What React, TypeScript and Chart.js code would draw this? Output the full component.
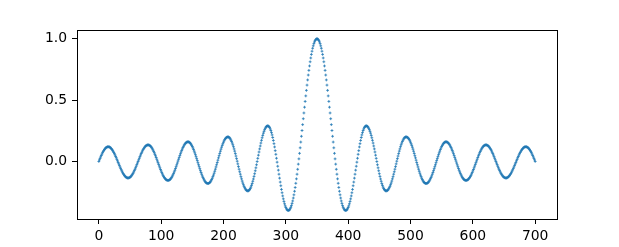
import React, { useEffect, useRef } from "react";
import { Chart, registerables } from "chart.js";

Chart.register(...registerables);

// Sample positions: x = xStart + index * xStep
const xStart = 0;
const xStep = 1;

// Values, x = 0 .. 700
const yValues: number[] = [
  0.000, 0.013, 0.025, 0.037, 0.049, 0.060, 0.071, 0.080, 0.089, 0.097,
  0.104, 0.110, 0.114, 0.117, 0.119, 0.120, 0.119, 0.118, 0.115, 0.110,
  0.105, 0.098, 0.091, 0.083, 0.073, 0.063, 0.053, 0.041, 0.030, 0.017,
  0.005, -0.008, -0.020, -0.032, -0.045, -0.056, -0.068, -0.078, -0.088, -0.098,
  -0.106, -0.114, -0.120, -0.125, -0.130, -0.133, -0.134, -0.135, -0.134, -0.132,
  -0.129, -0.125, -0.119, -0.112, -0.104, -0.096, -0.086, -0.075, -0.064, -0.052,
  -0.039, -0.026, -0.013, 0.000, 0.013, 0.026, 0.039, 0.052, 0.064, 0.075,
  0.086, 0.096, 0.104, 0.112, 0.119, 0.125, 0.129, 0.132, 0.134, 0.135,
  0.134, 0.132, 0.129, 0.124, 0.118, 0.111, 0.102, 0.093, 0.082, 0.071,
  0.058, 0.046, 0.032, 0.018, 0.004, -0.010, -0.024, -0.038, -0.052, -0.066,
  -0.078, -0.091, -0.102, -0.113, -0.122, -0.131, -0.138, -0.144, -0.149, -0.152,
  -0.154, -0.155, -0.154, -0.152, -0.148, -0.143, -0.136, -0.129, -0.119, -0.109,
  -0.097, -0.085, -0.072, -0.058, -0.043, -0.028, -0.013, 0.003, 0.018, 0.033,
  0.048, 0.063, 0.077, 0.090, 0.102, 0.114, 0.124, 0.134, 0.141, 0.148,
  0.153, 0.157, 0.159, 0.160, 0.159, 0.157, 0.153, 0.147, 0.140, 0.131,
  0.121, 0.110, 0.098, 0.084, 0.070, 0.055, 0.039, 0.023, 0.007, -0.010,
  -0.027, -0.043, -0.059, -0.075, -0.090, -0.104, -0.118, -0.130, -0.141, -0.151,
  -0.160, -0.167, -0.173, -0.177, -0.179, -0.180, -0.179, -0.176, -0.172, -0.166,
  -0.158, -0.148, -0.137, -0.124, -0.111, -0.096, -0.080, -0.063, -0.045, -0.027,
  -0.009, 0.010, 0.029, 0.047, 0.065, 0.083, 0.100, 0.116, 0.131, 0.144,
  0.157, 0.168, 0.178, 0.186, 0.192, 0.196, 0.199, 0.200, 0.199, 0.196,
  0.191, 0.183, 0.174, 0.163, 0.150, 0.136, 0.120, 0.102, 0.084, 0.064,
  0.044, 0.023, 0.002, -0.020, -0.042, -0.063, -0.084, -0.104, -0.124, -0.142,
  -0.160, -0.176, -0.190, -0.203, -0.214, -0.223, -0.231, -0.236, -0.239, -0.240,
  -0.239, -0.235, -0.229, -0.220, -0.209, -0.195, -0.180, -0.162, -0.143, -0.122,
  -0.100, -0.076, -0.052, -0.027, -0.001, 0.025, 0.051, 0.077, 0.102, 0.126,
  0.150, 0.172, 0.193, 0.212, 0.230, 0.245, 0.259, 0.270, 0.279, 0.285,
  0.289, 0.290, 0.288, 0.284, 0.276, 0.265, 0.252, 0.235, 0.216, 0.195,
  0.171, 0.145, 0.118, 0.088, 0.058, 0.026, -0.006, -0.039, -0.071, -0.104,
  -0.136, -0.168, -0.198, -0.228, -0.255, -0.281, -0.305, -0.326, -0.345, -0.362,
  -0.375, -0.386, -0.394, -0.398, -0.400, -0.398, -0.394, -0.385, -0.374, -0.360,
  -0.342, -0.322, -0.298, -0.272, -0.243, -0.212, -0.178, -0.142, -0.104, -0.064,
  -0.022, 0.021, 0.066, 0.111, 0.158, 0.205, 0.252, 0.300, 0.348, 0.395,
  0.442, 0.489, 0.534, 0.579, 0.622, 0.664, 0.704, 0.742, 0.778, 0.812,
  0.843, 0.872, 0.898, 0.922, 0.942, 0.960, 0.974, 0.985, 0.993, 0.998,
  1.000,
  0.998, 0.993, 0.985, 0.974, 0.960, 0.942, 0.922, 0.898, 0.872, 0.843,
  0.812, 0.778, 0.742, 0.704, 0.664, 0.622, 0.579, 0.534, 0.489, 0.442,
  0.395, 0.348, 0.300, 0.252, 0.205, 0.158, 0.111, 0.066, 0.021, -0.022,
  -0.064, -0.104, -0.142, -0.178, -0.212, -0.243, -0.272, -0.298, -0.322, -0.342,
  -0.360, -0.374, -0.385, -0.394, -0.398, -0.400, -0.398, -0.394, -0.386, -0.375,
  -0.362, -0.345, -0.326, -0.305, -0.281, -0.255, -0.228, -0.198, -0.168, -0.136,
  -0.104, -0.071, -0.039, -0.006, 0.026, 0.058, 0.088, 0.118, 0.145, 0.171,
  0.195, 0.216, 0.235, 0.252, 0.265, 0.276, 0.284, 0.288, 0.290, 0.289,
  0.285, 0.279, 0.270, 0.259, 0.245, 0.230, 0.212, 0.193, 0.172, 0.150,
  0.126, 0.102, 0.077, 0.051, 0.025, -0.001, -0.027, -0.052, -0.076, -0.100,
  -0.122, -0.143, -0.162, -0.180, -0.195, -0.209, -0.220, -0.229, -0.235, -0.239,
  -0.240, -0.239, -0.236, -0.231, -0.223, -0.214, -0.203, -0.190, -0.176, -0.160,
  -0.142, -0.124, -0.104, -0.084, -0.063, -0.042, -0.020, 0.002, 0.023, 0.044,
  0.064, 0.084, 0.102, 0.120, 0.136, 0.150, 0.163, 0.174, 0.183, 0.191,
  0.196, 0.199, 0.200, 0.199, 0.196, 0.192, 0.186, 0.178, 0.168, 0.157,
  0.144, 0.131, 0.116, 0.100, 0.083, 0.065, 0.047, 0.029, 0.010, -0.009,
  -0.027, -0.045, -0.063, -0.080, -0.096, -0.111, -0.124, -0.137, -0.148, -0.158,
  -0.166, -0.172, -0.176, -0.179, -0.180, -0.179, -0.177, -0.173, -0.167, -0.160,
  -0.151, -0.141, -0.130, -0.118, -0.104, -0.090, -0.075, -0.059, -0.043, -0.027,
  -0.010, 0.007, 0.023, 0.039, 0.055, 0.070, 0.084, 0.098, 0.110, 0.121,
  0.131, 0.140, 0.147, 0.153, 0.157, 0.159, 0.160, 0.159, 0.157, 0.153,
  0.148, 0.141, 0.134, 0.124, 0.114, 0.102, 0.090, 0.077, 0.063, 0.048,
  0.033, 0.018, 0.003, -0.013, -0.028, -0.043, -0.058, -0.072, -0.085, -0.097,
  -0.109, -0.119, -0.129, -0.136, -0.143, -0.148, -0.152, -0.154, -0.155, -0.154,
  -0.152, -0.149, -0.144, -0.138, -0.131, -0.122, -0.113, -0.102, -0.091, -0.078,
  -0.066, -0.052, -0.038, -0.024, -0.010, 0.004, 0.018, 0.032, 0.046, 0.058,
  0.071, 0.082, 0.093, 0.102, 0.111, 0.118, 0.124, 0.129, 0.132, 0.134,
  0.135, 0.134, 0.132, 0.129, 0.125, 0.119, 0.112, 0.104, 0.096, 0.086,
  0.075, 0.064, 0.052, 0.039, 0.026, 0.013, 0.000, -0.013, -0.026, -0.039,
  -0.052, -0.064, -0.075, -0.086, -0.096, -0.104, -0.112, -0.119, -0.125, -0.129,
  -0.132, -0.134, -0.135, -0.134, -0.133, -0.130, -0.125, -0.120, -0.114, -0.106,
  -0.098, -0.088, -0.078, -0.068, -0.056, -0.045, -0.032, -0.020, -0.008, 0.005,
  0.017, 0.030, 0.041, 0.053, 0.063, 0.073, 0.083, 0.091, 0.098, 0.105,
  0.110, 0.115, 0.118, 0.119, 0.120, 0.119, 0.117, 0.114, 0.110, 0.104,
  0.097, 0.089, 0.080, 0.071, 0.060, 0.049, 0.037, 0.025, 0.013, 0.000,
];

const xTicks = [0, 100, 200, 300, 400, 500, 600, 700];
const yTicks = [0.0, 0.5, 1.0];
const xLimits = [-35, 735];
const yLimits = [-0.469, 1.071];

const FONT = { family: "'DejaVu Sans', sans-serif", size: 13.9 };

export default function App() {
  const canvasRef = useRef<HTMLCanvasElement | null>(null);

  useEffect(() => {
    document.body.style.margin = "0";
    const canvas = canvasRef.current;
    if (!canvas) return;

    const points = yValues.map((y, i) => ({ x: xStart + i * xStep, y }));

    const framePlugin = {
      id: "frame",
      afterDraw(chart: any) {
        const { ctx, chartArea: a } = chart;
        ctx.save();
        ctx.strokeStyle = "#000000";
        ctx.lineWidth = 1;
        ctx.strokeRect(a.left + 0.5, a.top + 0.5, a.right - a.left, a.bottom - a.top);
        ctx.restore();
      },
    };

    const chart = new Chart(canvas, {
      type: "scatter",
      data: {
        datasets: [
          {
            data: points,
            showLine: false,
            pointStyle: "cross",
            pointRadius: 1.4,
            pointBorderWidth: 0.8,
            borderColor: "#1f77b4",
            backgroundColor: "#1f77b4",
            pointHoverRadius: 1.4,
          },
        ],
      },
      options: {
        responsive: false,
        animation: false,
        devicePixelRatio: 1,
        events: [],
        layout: { autoPadding: false, padding: { top: 30, right: 62, left: 0, bottom: 0 } },
        plugins: { legend: { display: false }, tooltip: { enabled: false } },
        scales: {
          x: {
            type: "linear",
            min: xLimits[0],
            max: xLimits[1],
            afterBuildTicks: (scale: any) => {
              scale.ticks = xTicks.map((v) => ({ value: v }));
            },
            afterFit: (scale: any) => {
              scale.height = 28;
            },
            ticks: {
              color: "#000000",
              font: FONT,
              padding: 4,
              maxRotation: 0,
              autoSkip: false,
              callback: (v: any) => String(v),
            },
            grid: {
              display: true,
              drawOnChartArea: false,
              drawTicks: true,
              tickLength: 5,
              color: "#000000",
              lineWidth: 1,
            },
            border: { display: false },
          },
          y: {
            type: "linear",
            min: yLimits[0],
            max: yLimits[1],
            afterBuildTicks: (scale: any) => {
              scale.ticks = yTicks.map((v) => ({ value: v }));
            },
            afterFit: (scale: any) => {
              scale.width = 77;
            },
            ticks: {
              color: "#000000",
              font: FONT,
              padding: 5,
              autoSkip: false,
              callback: (v: any) => Number(v).toFixed(1),
            },
            grid: {
              display: true,
              drawOnChartArea: false,
              drawTicks: true,
              tickLength: 5,
              color: "#000000",
              lineWidth: 1,
            },
            border: { display: false },
          },
        },
      },
      plugins: [framePlugin],
    });

    return () => chart.destroy();
  }, []);

  return (
    <div style={{ width: 619, height: 247, background: "#ffffff" }}>
      <canvas ref={canvasRef} width={619} height={247} style={{ display: "block" }} />
    </div>
  );
}
